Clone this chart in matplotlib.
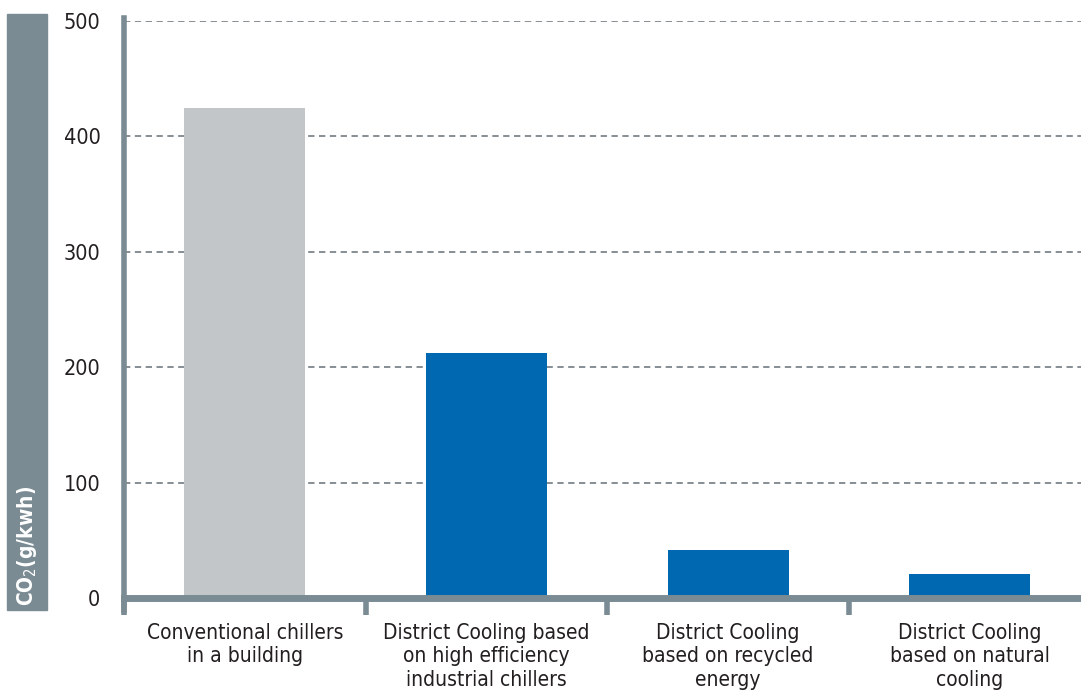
import matplotlib.pyplot as plt
from matplotlib.patches import Rectangle
from matplotlib import font_manager

# Data
categories = [
    "Conventional chillers\nin a building",
    "District Cooling based\non high efficiency\nindustrial chillers",
    "District Cooling\nbased on recycled\nenergy",
    "District Cooling\nbased on natural\ncooling",
]
co2_values = [425, 212, 42, 21]
bar_colors = ["#c3c6c8", "#0067b1", "#0067b1", "#0067b1"]
y_ticks = [0, 100, 200, 300, 400, 500]

names = {f.name for f in font_manager.fontManager.ttflist}
family = "Liberation Sans Narrow" if "Liberation Sans Narrow" in names else "DejaVu Sans"
plt.rcParams['font.family'] = [family, "DejaVu Sans"]
plt.rcParams['font.stretch'] = 'condensed'

axis_grey = "#7b8b94"
text_col = "#231f20"

fig = plt.figure(figsize=(10.81, 6.96), dpi=100)
ax = fig.add_axes([124 / 1081, 1 - 598 / 696, 1 - 124 / 1081, (598 - 21) / 696])

x = list(range(len(categories)))
ax.bar(x, co2_values, width=0.5, color=bar_colors, zorder=3)

ax.set_xlim(-0.5, 3.46)
ax.set_ylim(0, 500)
ax.set_yticks(y_ticks)
ax.set_yticklabels([str(v) for v in y_ticks], fontsize=15.5, color=text_col)
ax.tick_params(axis='y', length=0, pad=17)

# dashed grid
for v in y_ticks[1:]:
    ax.axhline(v, color="#7d868c", lw=1.3, ls=(0, (3.5, 2.5)), zorder=1)

# x ticks between categories
ax.set_xticks([-0.5, 0.5, 1.5, 2.5])
ax.set_xticklabels([])
ax.tick_params(axis='x', length=12, width=4, color=axis_grey, direction='out')
for xi, lab in zip(x, categories):
    ax.text(xi, -0.043, lab, transform=ax.get_xaxis_transform(), ha='center', va='top',
            fontsize=15, color=text_col, linespacing=1.22)

for s in ["top", "right"]:
    ax.spines[s].set_visible(False)
ax.spines["left"].set_color(axis_grey)
ax.spines["left"].set_linewidth(4)
ax.spines["left"].set_bounds(-10, 503)
ax.spines["bottom"].set_color(axis_grey)
ax.spines["bottom"].set_linewidth(5)
ax.spines["bottom"].set_zorder(4)

# y label panel
fig.patches.append(Rectangle((7 / 1081, 1 - 610 / 696), 40 / 1081, 596 / 696,
                             transform=fig.transFigure, color=axis_grey, zorder=0))
fig.text(27 / 1081, 1 - 606 / 696, "CO$_2$(g/kwh)", rotation=90, ha='center', va='bottom',
         color="white", fontsize=15, fontweight='bold')

fig.savefig("out.png", dpi=100)
